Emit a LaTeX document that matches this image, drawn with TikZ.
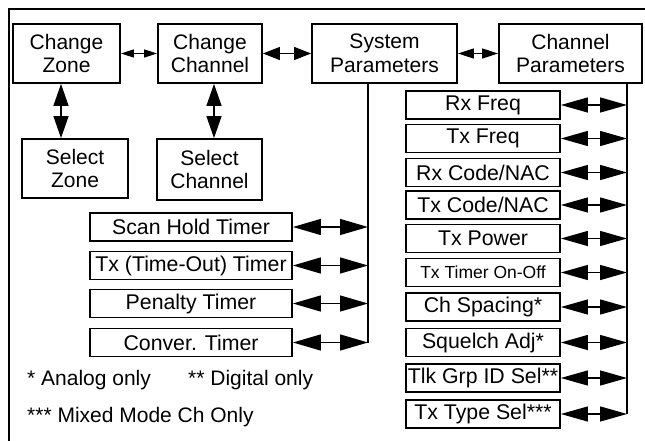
\documentclass[tikz,border=0pt]{standalone}
\usepackage{fontspec}
\setmainfont{Liberation Sans}
\usetikzlibrary{arrows.meta}

\tikzset{
  menu/.style={draw, line width=1.8pt, align=center, inner sep=0pt, minimum height=59pt,
    font=\fontsize{21}{23.5}\selectfont},
  item/.style={draw, line width=1.8pt, inner sep=0pt, minimum height=28pt,
    font=\fontsize{21.3}{23}\selectfont},
  dbl/.style 2 args={line width=1.3pt,
    {Triangle[length=#1,width=#2]}-{Triangle[length=#1,width=#2]}},
}

\begin{document}
\begin{tikzpicture}[x=1pt,y=-1pt]
\useasboundingbox (0,0) rectangle (645,441);

\draw[line width=1.8pt] (9,441)--(9,9)--(645,9);

% top row
\node[menu, minimum width=107pt] (chzone) at (66.5,53.5) {Change\\Zone};
\node[menu, minimum width=104pt] (chchan) at (210,53.5) {Change\\Channel};
\node[menu, minimum width=145pt] (syspar) at (384.5,53.5) {System\\Parameters};
\node[menu, minimum width=143pt] (chanpar) at (570.5,53.5) {Channel\\Parameters};

\node[menu, minimum width=106pt] (selzone) at (75,168.5) {Select\\Zone};
\node[menu, minimum width=105pt, minimum height=61pt] (selchan) at (209.5,169.5) {Select\\Channel};

\draw[dbl={13pt}{8pt}] (chzone) -- (chchan);
\draw[dbl={17pt}{13pt}] (chchan) -- (syspar);
\draw[dbl={16pt}{10pt}] (syspar) -- (chanpar);

\coordinate (zonex) at (61,0);
\coordinate (chanx) at (214,0);
\draw[dbl={22pt}{15pt}] (chzone.south -| zonex) -- (selzone.north -| zonex);
\draw[dbl={22pt}{15pt}] (chchan.south -| chanx) -- (selchan.north -| chanx);

% system parameters
\node[item, minimum width=202pt] (scan) at (191,227) {Scan Hold Timer};
\node[item, minimum width=202pt] (txtot) at (191,265.5) {Tx (Time-Out) Timer};
\node[item, minimum width=202pt] (penalty) at (191,303.5) {Penalty Timer};
\node[item, minimum width=202pt] (conver) at (191,342.5) {Conver. Timer};

\coordinate (sysend) at (368,342.5);
\draw[line width=1.8pt] (syspar.south -| sysend) -- (sysend);
\foreach \n in {scan,txtot,penalty,conver}
  \draw[dbl={28pt}{16pt}] (\n.east) -- (\n.east -| sysend);

% channel parameters
\node[item, minimum width=154pt] (rxfreq) at (483,105) {Rx Freq};
\node[item, minimum width=154pt] (txfreq) at (483,138.5) {Tx Freq};
\node[item, minimum width=154pt] (rxcode) at (483,172.5) {Rx Code/NAC};
\node[item, minimum width=154pt] (txcode) at (483,205) {Tx Code/NAC};
\node[item, minimum width=154pt] (txpower) at (483,238.5) {Tx Power};
\node[item, minimum width=154pt, font=\fontsize{17.5}{20}\selectfont] (txtimer) at (483,272.5) {Tx Timer On-Off};
\node[item, minimum width=154pt] (chspace) at (483,307) {Ch Spacing*};
\node[item, minimum width=154pt] (squelch) at (483,342.5) {Squelch Adj*};
\node[item, minimum width=154pt] (tlkgrp) at (483,378) {Tlk Grp ID Sel**};
\node[item, minimum width=154pt] (txtype) at (483,414) {Tx Type Sel***};

\coordinate (chanend) at (627,414);
\draw[line width=1.8pt] (chanpar.south -| chanend) -- (chanend);
\foreach \n in {rxfreq,txfreq,rxcode,txcode,txpower,txtimer,chspace,squelch,tlkgrp,txtype}
  \draw[dbl={27pt}{15pt}] (\n.east) -- (\n.east -| chanend);

% notes
\node[anchor=west, inner sep=0pt, font=\fontsize{21}{23}\selectfont] (note1) at (27,380) {* Analog only};
\node[anchor=west, inner sep=0pt, font=\fontsize{21}{23}\selectfont] (note2) at (188,380) {** Digital only};
\node[anchor=west, inner sep=0pt, font=\fontsize{21}{23}\selectfont] (note3) at (27,417) {*** Mixed Mode Ch Only};
\end{tikzpicture}
\end{document}
